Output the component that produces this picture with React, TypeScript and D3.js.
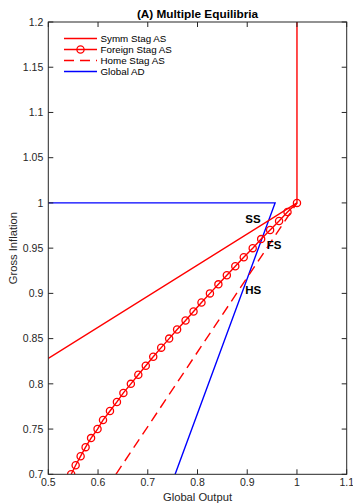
import React from "react";
import * as d3 from "d3";

const xTicks = [0.5, 0.6, 0.7, 0.8, 0.9, 1.0, 1.1];
const yTicks = [0.7, 0.75, 0.8, 0.85, 0.9, 0.95, 1.0, 1.05, 1.1, 1.15, 1.2];

const symmX = [0.5, 1.0, 1.0];
const symmY = [0.828, 1.0, 1.2];

const foreignY = [0.70, 0.71, 0.72, 0.73, 0.74, 0.75, 0.76, 0.77, 0.78, 0.79, 0.80, 0.81, 0.82, 0.83, 0.84, 0.85, 0.86, 0.87, 0.88, 0.89, 0.90, 0.91, 0.92, 0.93, 0.94, 0.95, 0.96, 0.97, 0.98, 0.99, 1.00];
const foreignX = [0.546, 0.555, 0.565, 0.575, 0.586, 0.599, 0.610, 0.624, 0.638, 0.651, 0.666, 0.681, 0.696, 0.711, 0.727, 0.743, 0.759, 0.776, 0.792, 0.808, 0.825, 0.842, 0.859, 0.876, 0.893, 0.911, 0.928, 0.946, 0.964, 0.981, 1.0];

const homeX = [0.636, 1.0];
const homeY = [0.7, 1.0];

const adX = [0.5, 0.956, 0.755];
const adY = [1.0, 1.0, 0.7];

const pointLabels = ["SS", "FS", "HS"];
const labelX = [0.896, 0.939, 0.896];
const labelY = [0.978, 0.949, 0.899];

const legendNames = ["Symm Stag AS", "Foreign Stag AS", "Home Stag AS", "Global AD"];

export default function App() {
  const W = 353, H = 503;
  const left = 48.3, right = 346.7, top = 22, bottom = 474.3;
  const x = d3.scaleLinear().domain([0.5, 1.1]).range([left, right]);
  const y = d3.scaleLinear().domain([0.7, 1.2]).range([bottom, top]);
  const line = d3.line<[number, number]>().x((d) => x(d[0])).y((d) => y(d[1]));
  const zip = (a: number[], b: number[]) => a.map((v, i) => [v, b[i]] as [number, number]);
  const font = "Liberation Sans, Arial, sans-serif";
  const axisColor = "#262626";
  const red = "#ff0000";
  const blue = "#0000ff";
  const tl = 5;

  const legendY = [38.5, 49.5, 60.5, 71.5];

  return (
    <svg width={W} height={H} style={{ position: "absolute", left: 0, top: 0 }} fontFamily={font}>
      <rect width={W} height={H} fill="#fff" />
      <defs>
        <clipPath id="plot">
          <rect x={left} y={top} width={right - left} height={bottom - top} />
        </clipPath>
      </defs>
      <g clipPath="url(#plot)">
        <path d={line(zip(adX, adY)) || ""} fill="none" stroke={blue} strokeWidth={1.4} />
        <path d={line(zip(homeX, homeY)) || ""} fill="none" stroke={red} strokeWidth={1.4} strokeDasharray="10,6" />
        <path d={line(zip(symmX, symmY)) || ""} fill="none" stroke={red} strokeWidth={1.4} />
        <path d={line(zip(foreignX, foreignY)) || ""} fill="none" stroke={red} strokeWidth={1.4} />
        {foreignX.map((v, i) => (
          <circle key={i} cx={x(v)} cy={y(foreignY[i])} r={3.6} fill="none" stroke={red} strokeWidth={1.3} />
        ))}
      </g>
      {pointLabels.map((t, i) => (
        <text key={t} x={x(labelX[i])} y={y(labelY[i])} fontSize={11.5} fontWeight="bold" fill="#000">{t}</text>
      ))}
      {/* frame */}
      <rect x={left} y={top} width={right - left} height={bottom - top} fill="none" stroke={axisColor} strokeWidth={1} />
      {xTicks.map((t) => (
        <g key={"x" + t}>
          <line x1={x(t)} x2={x(t)} y1={bottom} y2={bottom - tl} stroke={axisColor} />
          <line x1={x(t)} x2={x(t)} y1={top} y2={top + tl} stroke={axisColor} />
          <text x={x(t)} y={bottom + 11.5} fontSize={10.5} textAnchor="middle" fill={axisColor}>{String(t)}</text>
        </g>
      ))}
      {yTicks.map((t) => (
        <g key={"y" + t}>
          <line x1={left} x2={left + tl} y1={y(t)} y2={y(t)} stroke={axisColor} />
          <line x1={right} x2={right - tl} y1={y(t)} y2={y(t)} stroke={axisColor} />
          <text x={left - 5} y={y(t) + 3.7} fontSize={10.5} textAnchor="end" fill={axisColor}>{String(t)}</text>
        </g>
      ))}
      <text x={(left + right) / 2} y={501} fontSize={11.2} textAnchor="middle" fill={axisColor}>Global Output</text>
      <text transform={`translate(16.5,${(top + bottom) / 2}) rotate(-90)`} fontSize={11.2} textAnchor="middle" fill={axisColor}>Gross Inflation</text>
      <text x={(left + right) / 2} y={17.5} fontSize={11.8} fontWeight="bold" textAnchor="middle" fill="#000">(A) Multiple Equilibria</text>
      {/* legend */}
      {legendNames.map((n, i) => {
        const ly = legendY[i];
        const stroke = i === 3 ? blue : red;
        return (
          <g key={n}>
            <line x1={64} x2={97} y1={ly} y2={ly} stroke={stroke} strokeWidth={1.4} strokeDasharray={i === 2 ? "10,6" : undefined} />
            {i === 1 && <circle cx={80.5} cy={ly} r={3.6} fill="none" stroke={red} strokeWidth={1.3} />}
            <text x={100.5} y={ly + 3.5} fontSize={9.8} fill="#000">{n}</text>
          </g>
        );
      })}
    </svg>
  );
}
